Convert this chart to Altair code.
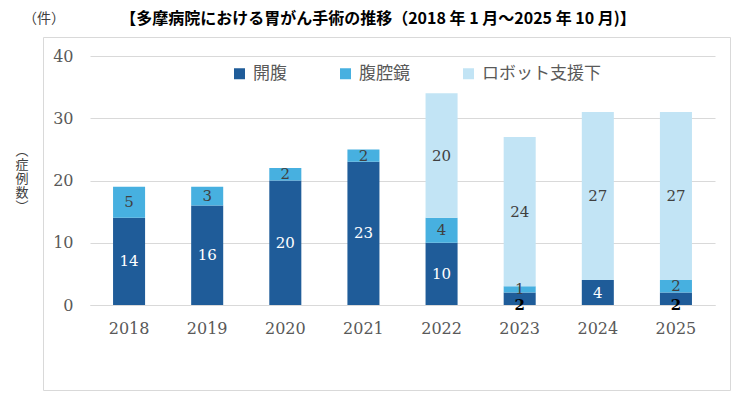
import altair as alt
import pandas as pd

years = ["2018", "2019", "2020", "2021", "2022", "2023", "2024", "2025"]
open_surgery = [14, 16, 20, 23, 10, 2, 4, 2]
laparoscopic = [5, 3, 2, 2, 4, 1, 0, 2]
robotic = [0, 0, 0, 0, 20, 24, 27, 27]
series = ["開腹", "腹腔鏡", "ロボット支援下"]
colors = ["#1f5c99", "#47b0e0", "#c2e4f5"]
y_ticks = [0, 10, 20, 30, 40]

title_text = "【多摩病院における胃がん手術の推移（2018 年 1 月～2025 年 10 月)】"
unit_text = "（件）"
ytitle_text = "︵\n症\n例\n数\n︶"

rows = []
for i, yr in enumerate(years):
    base = 0
    for k, vals in enumerate([open_surgery, laparoscopic, robotic]):
        v = vals[i]
        small_dark = (k == 0 and v < 3)
        rows.append(dict(year=yr, series=series[k], order=k, value=v,
                         y0=base, y1=base + v,
                         ly=(base + v / 2 - 1) if small_dark else (base + v / 2),
                         small=small_dark,
                         tcolor="#ffffff" if k == 0 else "#404040"))
        base += v
df = pd.DataFrame(rows)

W, H = 625, 249
SERIF = "DejaVu Serif"
CJK = "Noto Sans CJK JP"

xenc = alt.X("year:O", sort=years, title=None,
             scale=alt.Scale(paddingInner=0.59, paddingOuter=0.295),
             axis=alt.Axis(labelAngle=0, labelFont=SERIF, labelFontSize=16,
                           labelColor="#595959", labelPadding=15, ticks=False,
                           domain=True, domainColor="#d9d9d9", grid=False))

bars = alt.Chart(df).mark_bar().encode(
    x=xenc,
    y=alt.Y("y0:Q", title=None,
            scale=alt.Scale(domain=[0, 40], nice=False),
            axis=alt.Axis(values=y_ticks, labelFont=SERIF, labelFontSize=16,
                          labelColor="#595959", labelPadding=17, ticks=False,
                          domain=False, grid=True, gridColor="#d9d9d9")),
    y2="y1:Q",
    color=alt.Color("series:N", scale=alt.Scale(domain=series, range=colors),
                    title=None,
                    legend=alt.Legend(orient="none", direction="horizontal",
                                      legendX=141, legendY=9,
                                      symbolType="square", symbolSize=121,
                                      symbolStrokeWidth=0,
                                      labelFont=CJK, labelFontSize=17,
                                      labelColor="#595959", labelOffset=5,
                                      columnPadding=50)),
    order=alt.Order("order:Q"),
)

labels = alt.Chart(df).transform_filter(
    (alt.datum.value > 0) & (alt.datum.small == False)
).mark_text(font=SERIF, fontSize=15, baseline="middle").encode(
    x=alt.X("year:O", sort=years),
    y=alt.Y("ly:Q"),
    text=alt.Text("value:Q"),
    color=alt.Color("tcolor:N", scale=None),
)

small_labels = alt.Chart(df).transform_filter(
    (alt.datum.value > 0) & (alt.datum.small == True)
).mark_text(font=SERIF, fontSize=15, fontWeight="bold", baseline="middle",
            color="#000000").encode(
    x=alt.X("year:O", sort=years),
    y=alt.Y("ly:Q"),
    text=alt.Text("value:Q"),
)

one = pd.DataFrame({"a": [0]})
frame = alt.Chart(one).mark_rect(fill="transparent", stroke="#d9d9d9",
                                 strokeWidth=1, clip=False).encode(
    x=alt.value(-46.5), x2=alt.value(640.5),
    y=alt.value(-18.5), y2=alt.value(334.5),
)

title = alt.Chart(one).mark_text(font=CJK, fontSize=16, fontWeight="bold",
                                 color="#000000", align="center",
                                 baseline="middle").encode(
    x=alt.value(288), y=alt.value(-37), text=alt.value(title_text))

unit = alt.Chart(one).mark_text(font=CJK, fontSize=14, color="#404040",
                                align="center", baseline="middle").encode(
    x=alt.value(-46), y=alt.value(-37), text=alt.value(unit_text))

ytitle = alt.Chart(one).mark_text(font=CJK, fontSize=13, color="#404040",
                                  align="center", baseline="middle",
                                  lineBreak="\n", lineHeight=14).encode(
    x=alt.value(-68), y=alt.value(95), text=alt.value(ytitle_text))

chart = alt.layer(frame, bars, labels, small_labels, title, unit, ytitle).properties(
    width=W, height=H,
    autosize=alt.AutoSizeParams(type="none"),
    padding={"left": 82, "top": 48, "right": 16, "bottom": 86},
).configure_view(stroke=None)

chart.save("out.html", embed_options={"renderer": "svg", "actions": False})
